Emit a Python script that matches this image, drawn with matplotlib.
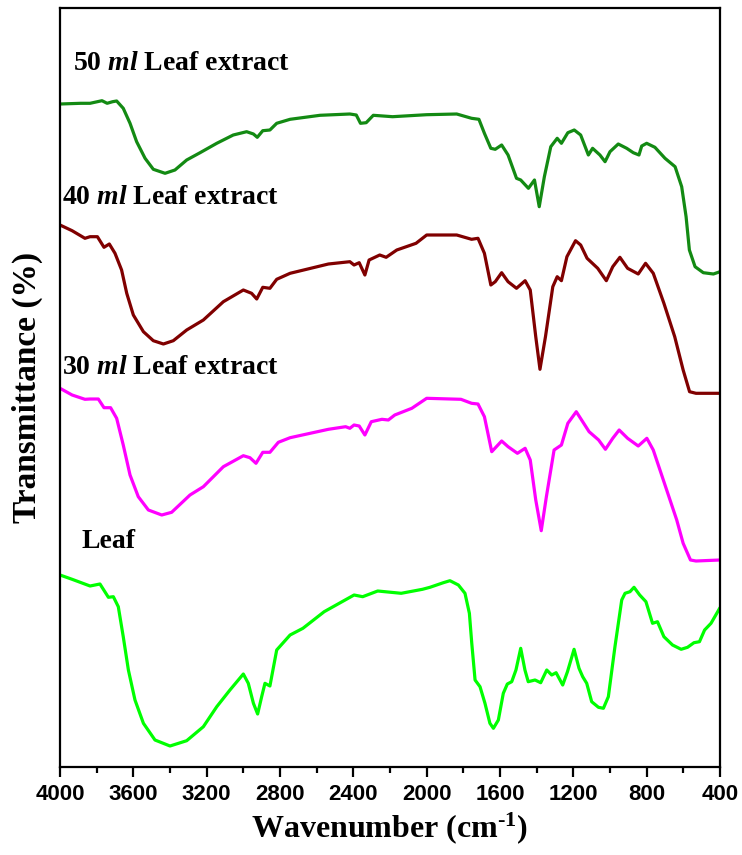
import matplotlib
matplotlib.use("Agg")
import matplotlib.pyplot as plt
from matplotlib.ticker import MultipleLocator

plt.rcParams['mathtext.fontset'] = 'custom'
plt.rcParams['mathtext.rm'] = 'Liberation Serif:bold'
plt.rcParams['mathtext.it'] = 'Liberation Serif:bold:italic'
plt.rcParams['mathtext.bf'] = 'Liberation Serif:bold'

# ---- data (wavenumber cm^-1, transmittance a.u.) ----
wn_50 = [4000, 3887, 3836, 3771, 3743, 3713, 3691, 3655, 3618, 3582, 3536, 3491, 3427, 3373, 3309, 3236,
         3145, 3055, 2982, 2945, 2924, 2894, 2855, 2818, 2745, 2582, 2419, 2384, 2361, 2330, 2291, 2186,
         2000, 1836, 1755, 1715, 1685, 1650, 1626, 1591, 1556, 1510, 1487, 1445, 1412, 1386, 1358, 1323,
         1288, 1265, 1230, 1195, 1160, 1118, 1095, 1055, 1027, 1000, 955, 909, 873, 842, 827, 800, 755,
         700, 645, 609, 585, 567, 536, 491, 436, 400]
t_50 = [663, 663.7, 663.7, 666.3, 663.7, 665.3, 666, 658.7, 643.7, 625.3, 608.7, 597.7, 593.7, 597, 607,
        614.3, 623.7, 632, 635.3, 633, 629.7, 636.3, 637, 643.7, 647.7, 651.7, 653, 652, 643.7, 644.3,
        651.7, 650.3, 652.3, 653, 648.7, 647.7, 633.7, 618.7, 617.7, 622, 612, 588.7, 587, 578.7, 587,
        560.3, 590.3, 620.3, 628.7, 623.7, 634.3, 637, 632, 612, 618.7, 612, 605.3, 615.3, 623, 618.7,
        614.3, 612, 621, 623.7, 619.7, 608.7, 600.3, 580.3, 550.3, 517, 500.3, 494.3, 493, 495.3]

wn_40 = [4000, 3934, 3864, 3836, 3796, 3760, 3731, 3700, 3664, 3636, 3600, 3545, 3491, 3436, 3382, 3309,
         3218, 3109, 3000, 2955, 2927, 2894, 2855, 2818, 2745, 2536, 2419, 2396, 2368, 2337, 2314, 2256,
         2221, 2163, 2058, 2000, 1836, 1755, 1720, 1685, 1650, 1626, 1591, 1556, 1510, 1463, 1435, 1405,
         1382, 1352, 1312, 1288, 1265, 1235, 1188, 1160, 1125, 1067, 1020, 985, 946, 904, 846, 806, 764,
         706, 647, 601, 566, 531, 400]
t_40 = [542, 536.3, 528.7, 530.3, 530.3, 519.7, 523, 513.7, 497, 473.7, 452, 435.3, 426.3, 423, 426.3,
        437, 447, 465.3, 477, 473.7, 468, 479.7, 478.7, 487.7, 493.7, 503, 505.3, 502, 504.3, 492, 507,
        512, 509.7, 517, 523.7, 532, 532, 527.7, 528.7, 513.7, 482, 485.3, 494.3, 485.3, 478.7, 486.3,
        477, 430.3, 397.7, 430.3, 480.3, 490.3, 486.3, 510.3, 526.3, 522, 508.7, 498.7, 486.3, 500.3,
        509.7, 498.7, 493, 503.7, 493.7, 463.7, 430.3, 397, 375.3, 373.7, 373.7]

wn_30 = [4000, 3934, 3864, 3836, 3791, 3760, 3724, 3691, 3655, 3618, 3573, 3518, 3445, 3391, 3291, 3218,
         3109, 3000, 2964, 2931, 2894, 2855, 2809, 2745, 2536, 2442, 2419, 2396, 2368, 2337, 2302, 2244,
         2209, 2174, 2081, 2000, 1813, 1755, 1720, 1685, 1645, 1591, 1556, 1505, 1463, 1435, 1405, 1375,
         1347, 1305, 1265, 1230, 1184, 1149, 1114, 1062, 1025, 985, 950, 904, 846, 799, 764, 706, 636,
         601, 561, 531, 400]
t_30 = [378.7, 372, 367.7, 368, 368, 359.3, 359.3, 348.7, 322, 292, 270.3, 257, 252, 254.7, 272, 280.3,
        300.3, 311.3, 309.3, 303.7, 314.7, 314.7, 324.7, 329.3, 337.7, 340.3, 338.7, 342, 341, 332,
        345.3, 347.7, 347, 352, 358.7, 368.7, 367.7, 363.7, 363, 350.3, 315.3, 326, 320.3, 313.7, 318.7,
        307, 267, 236.3, 270.3, 317, 322, 343.7, 355.3, 345.3, 335.3, 327, 317.7, 328.7, 337, 328.7, 321,
        328.7, 317, 285.3, 247, 223.7, 207, 206, 207]

wn_leaf = [4000, 3934, 3836, 3782, 3736, 3709, 3682, 3655, 3627, 3591, 3545, 3482, 3400, 3309, 3218, 3145,
           3073, 3000, 2973, 2945, 2922, 2900, 2882, 2855, 2818, 2745, 2675, 2559, 2396, 2349, 2267, 2139,
           2023, 1982, 1909, 1873, 1827, 1791, 1767, 1754, 1736, 1709, 1682, 1655, 1636, 1609, 1582, 1560,
           1536, 1513, 1487, 1464, 1446, 1409, 1378, 1345, 1318, 1294, 1258, 1232, 1196, 1169, 1149, 1127,
           1100, 1063, 1036, 1009, 973, 936, 918, 891, 869, 838, 804, 768, 741, 706, 659, 612, 577, 542,
           512, 484, 449, 400]
t_leaf = [192, 187.7, 181, 183, 169.7, 170.3, 160.3, 130.3, 97, 67, 43.7, 27, 21, 26.3, 40.3, 60.3, 77, 93,
          83.7, 63.7, 53, 70.3, 83.7, 81, 117, 132, 138.7, 155.3, 172, 170.3, 176, 173.7, 177.7, 179.7,
          184.3, 186.3, 182, 173.7, 153.7, 123.7, 87, 80.3, 63.7, 43.7, 38.7, 47, 73.7, 83, 85.3, 97,
          118.7, 97, 85.3, 87, 84.3, 97, 92, 94.3, 82, 95.3, 117.7, 98.7, 90.3, 83.7, 65.3, 59.7, 58.7,
          70.3, 120.3, 167, 173.7, 175.3, 179.7, 172, 165.3, 143.7, 145.3, 130.3, 122, 117.7, 119.7,
          124.3, 125.3, 137, 143.7, 159.3]

labels = ["50 $\\mathit{ml}$ Leaf extract", "40 $\\mathit{ml}$ Leaf extract",
          "30 $\\mathit{ml}$ Leaf extract", "Leaf"]
label_pos = [(3929, 704), (3989, 569), (3989, 400), (3885, 225)]
colors = ['#138a13', '#800000', '#ff00ff', '#00ff00']
xticks = [4000, 3600, 3200, 2800, 2400, 2000, 1600, 1200, 800, 400]

fig = plt.figure(figsize=(7.42, 8.55), dpi=100)
ax = fig.add_axes([60/742, 88/855, 660/742, 759/855])

series = [(wn_50, t_50), (wn_40, t_40), (wn_30, t_30), (wn_leaf, t_leaf)]
for (x, y), c in zip(series, colors):
    ax.plot(x, y, color=c, lw=2.3, solid_joinstyle='round', solid_capstyle='round')

for lab, (px, py) in zip(labels, label_pos):
    ax.text(px, py, lab, fontsize=20, fontweight='bold', family='Liberation Serif',
            ha='left', va='center')

ax.set_xlim(4000, 400)
ax.set_ylim(0, 759)
ax.set_xticks(xticks)
ax.set_xticklabels([str(v) for v in xticks], fontsize=16, fontweight='bold', family='Liberation Sans')
ax.xaxis.set_minor_locator(MultipleLocator(200))
ax.tick_params(axis='x', which='major', direction='out', length=7, width=1.6, pad=5)
ax.tick_params(axis='x', which='minor', direction='out', length=4, width=1.6)
ax.set_yticks([])
for s in ax.spines.values():
    s.set_linewidth(1.6)

ax.set_xlabel("Wavenumber (cm$^{\\text{-1}}$)", fontsize=23, fontweight='bold',
              family='Liberation Serif', labelpad=4)
ax.set_ylabel("Transmittance (%)", fontsize=24, fontweight='bold',
              family='Liberation Serif', labelpad=12)

fig.savefig("out.png", dpi=100)
